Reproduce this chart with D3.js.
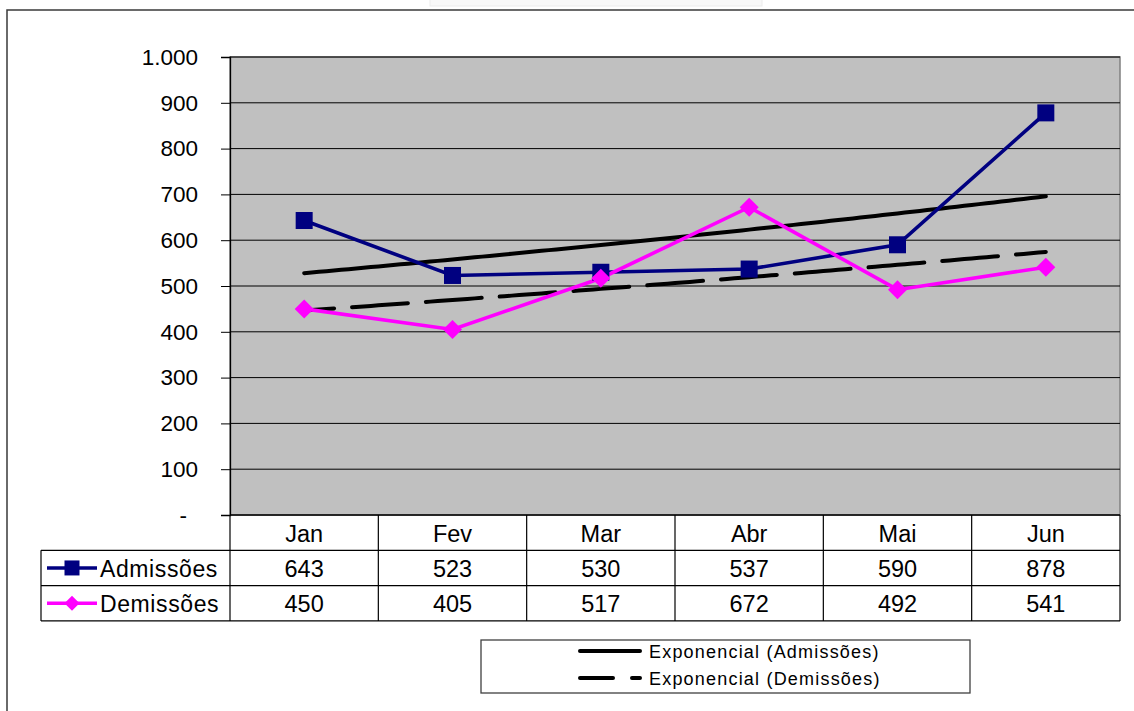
<!DOCTYPE html>
<html>
<head>
<meta charset="utf-8">
<script src="https://cdn.jsdelivr.net/npm/d3@7"></script>
<style>
  html, body { margin: 0; padding: 0; background: #fff; }
  svg { display: block; font-family: Arial, "Liberation Sans", sans-serif; }
</style>
</head>
<body>
<svg id="chart" width="1134" height="711"></svg>
<script>
// Monthly hires and dismissals (first semester)
const months = ["Jan", "Fev", "Mar", "Abr", "Mai", "Jun"];
const admissoes = [643, 523, 530, 537, 590, 878];
const demissoes = [450, 405, 517, 672, 492, 541];
const yTicks = [0, 100, 200, 300, 400, 500, 600, 700, 800, 900, 1000];
const seriesNames = ["Admissões", "Demissões"];
const trendNames = ["Exponencial (Admissões)", "Exponencial (Demissões)"];

const svg = d3.select("#chart");

// layout
const plot = { left: 230, right: 1120, top: 57, bottom: 515 };
const rowH = 35.3;
const tableLeft = 41;

const x = d3.scaleBand().domain(months).range([plot.left, plot.right]).padding(0);
const y = d3.scaleLinear().domain([0, 1000]).range([plot.bottom, plot.top]);
const cx = m => x(m) + x.bandwidth() / 2;

const navy = "#000080", magenta = "#FF00FF";

// faint tab at the very top
svg.append("rect").attr("x", 430).attr("y", -4).attr("width", 332).attr("height", 10)
  .attr("fill", "#f8f8f8").attr("stroke", "#ececec");

// outer chart frame
svg.append("rect").attr("x", 7).attr("y", 10).attr("width", 1140).attr("height", 720)
  .attr("fill", "none").attr("stroke", "#3a3a3a").attr("stroke-width", 1.5);

// plot background
svg.append("rect").attr("x", plot.left).attr("y", plot.top)
  .attr("width", plot.right - plot.left).attr("height", plot.bottom - plot.top)
  .attr("fill", "#C0C0C0").attr("stroke", "#808080").attr("stroke-width", 1.5);

// gridlines
svg.append("g").selectAll("line").data(yTicks.filter(t => t > 0)).join("line")
  .attr("x1", plot.left).attr("x2", plot.right)
  .attr("y1", d => y(d)).attr("y2", d => y(d))
  .attr("stroke", "#000").attr("stroke-width", 1);

// y axis
const fmt = v => v === 0 ? "-" : d3.format(",")(v).replace(/,/g, ".");
const yAxis = d3.axisLeft(y).tickValues(yTicks).tickSize(9).tickPadding(23).tickFormat(fmt);
const gy = svg.append("g").attr("transform", `translate(${plot.left},0)`).call(yAxis);
gy.select(".domain").attr("stroke", "#000").attr("stroke-width", 1.3);
gy.selectAll(".tick line").attr("stroke", "#000").attr("stroke-width", 1);
gy.selectAll(".tick text").attr("font-size", 22.5).attr("fill", "#000")
  .attr("font-family", "Arial, 'Liberation Sans', sans-serif");
gy.selectAll(".tick text").filter(d => d === 0).attr("x", -43);

// exponential trend: ln(v) = a + b*i
function expFit(vals) {
  const xs = vals.map((_, i) => i + 1);
  const ls = vals.map(v => Math.log(v));
  const mx = d3.mean(xs), ml = d3.mean(ls);
  const b = d3.sum(xs, (xi, i) => (xi - mx) * (ls[i] - ml)) / d3.sum(xs, xi => (xi - mx) ** 2);
  const a = ml - b * mx;
  return t => Math.exp(a + b * t);
}
const xi = d3.scaleLinear().domain([1, months.length]).range([cx(months[0]), cx(months[months.length - 1])]);
function trendPath(vals) {
  const f = expFit(vals);
  const pts = d3.range(1, months.length + 0.001, 0.05).map(t => [xi(t), y(f(t))]);
  return d3.line()(pts);
}

svg.append("path").attr("d", trendPath(admissoes)).attr("fill", "none")
  .attr("stroke", "#000").attr("stroke-width", 4).attr("stroke-linecap", "round");
svg.append("path").attr("d", trendPath(demissoes)).attr("fill", "none")
  .attr("stroke", "#000").attr("stroke-width", 4).attr("stroke-linecap", "round")
  .attr("stroke-dasharray", "56,18").attr("stroke-dashoffset", 26);

// series lines
const line = d3.line().x((d, i) => cx(months[i])).y(d => y(d));
svg.append("path").attr("d", line(admissoes)).attr("fill", "none")
  .attr("stroke", navy).attr("stroke-width", 3.6);
svg.append("path").attr("d", line(demissoes)).attr("fill", "none")
  .attr("stroke", magenta).attr("stroke-width", 3.6);

// markers
const diamond = (w, h) => `M0,${-h}L${w},0L0,${h}L${-w},0Z`;
svg.append("g").selectAll("rect").data(admissoes).join("rect")
  .attr("x", (d, i) => cx(months[i]) - 8.5).attr("y", d => y(d) - 8.5)
  .attr("width", 17).attr("height", 17).attr("fill", navy);
svg.append("g").selectAll("path").data(demissoes).join("path")
  .attr("d", diamond(9.5, 9.5))
  .attr("transform", (d, i) => `translate(${cx(months[i])},${y(d)})`)
  .attr("fill", magenta);

// data table
const tbl = svg.append("g");
const tTop = plot.bottom;
const rows = [tTop, tTop + rowH, tTop + 2 * rowH, tTop + 3 * rowH];
tbl.append("line").attr("x1", plot.left).attr("x2", plot.right).attr("y1", rows[0]).attr("y2", rows[0])
  .attr("stroke", "#000").attr("stroke-width", 1.3);
rows.slice(1).forEach(r => {
  tbl.append("line").attr("x1", tableLeft).attr("x2", plot.right).attr("y1", r).attr("y2", r)
    .attr("stroke", "#000").attr("stroke-width", 1.2);
});
months.forEach(m => {
  tbl.append("line").attr("x1", x(m)).attr("x2", x(m)).attr("y1", rows[0]).attr("y2", rows[3])
    .attr("stroke", "#000").attr("stroke-width", 1.2);
});
tbl.append("line").attr("x1", plot.right).attr("x2", plot.right).attr("y1", rows[0]).attr("y2", rows[3])
  .attr("stroke", "#000").attr("stroke-width", 1.2);
tbl.append("line").attr("x1", tableLeft).attr("x2", tableLeft).attr("y1", rows[1]).attr("y2", rows[3])
  .attr("stroke", "#000").attr("stroke-width", 1.2);

const cellText = (tx, ty, s) => tbl.append("text").attr("x", tx).attr("y", ty)
  .attr("text-anchor", "middle").attr("dominant-baseline", "central")
  .attr("font-size", 23.5).attr("fill", "#000").text(s);

months.forEach(m => cellText(cx(m), (rows[0] + rows[1]) / 2 + 1, m));
admissoes.forEach((v, i) => cellText(cx(months[i]), (rows[1] + rows[2]) / 2 + 1, v));
demissoes.forEach((v, i) => cellText(cx(months[i]), (rows[2] + rows[3]) / 2 + 1, v));

// series keys in the table
[[navy, "square"], [magenta, "diamond"]].forEach(([col, shape], k) => {
  const ry = (rows[k + 1] + rows[k + 2]) / 2;
  tbl.append("line").attr("x1", 47).attr("x2", 97).attr("y1", ry).attr("y2", ry)
    .attr("stroke", col).attr("stroke-width", 3.6);
  if (shape === "square") {
    tbl.append("rect").attr("x", 72 - 7.5).attr("y", ry - 7.5).attr("width", 15).attr("height", 15).attr("fill", col);
  } else {
    tbl.append("path").attr("d", diamond(7.5, 7.5)).attr("transform", `translate(72,${ry})`).attr("fill", col);
  }
  tbl.append("text").attr("x", 100).attr("y", ry + 1).attr("dominant-baseline", "central")
    .attr("font-size", 23).attr("letter-spacing", 0.6).attr("fill", "#000").text(seriesNames[k]);
});

// trendline legend
const lg = svg.append("g");
lg.append("rect").attr("x", 481).attr("y", 640).attr("width", 489).attr("height", 53)
  .attr("fill", "#fff").attr("stroke", "#404040").attr("stroke-width", 1.3);
[651, 678].forEach((ly, k) => {
  const seg = lg.append("line").attr("x1", 580).attr("x2", 640).attr("y1", ly).attr("y2", ly)
    .attr("stroke", "#000").attr("stroke-width", 4).attr("stroke-linecap", "round");
  if (k === 1) seg.attr("stroke-dasharray", "33,19");
  lg.append("text").attr("x", 649).attr("y", ly + 1).attr("dominant-baseline", "central")
    .attr("font-size", 18).attr("letter-spacing", 1.2).attr("fill", "#000").text(trendNames[k]);
});
</script>
</body>
</html>
